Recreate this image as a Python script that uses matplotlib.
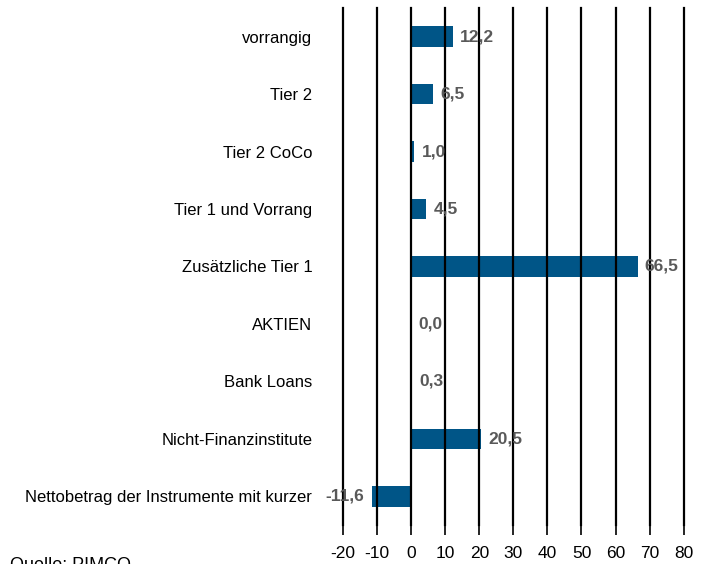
import matplotlib.pyplot as plt
from matplotlib import font_manager

# data
categories = ["vorrangig", "Tier 2", "Tier 2 CoCo", "Tier 1 und Vorrang",
              "Zusätzliche Tier 1", "AKTIEN", "Bank Loans",
              "Nicht-Finanzinstitute", "Nettobetrag der Instrumente mit kurzer"]
values = [12.2, 6.5, 1.0, 4.5, 66.5, 0.0, 0.3, 20.5, -11.6]
x_ticks = [-20, -10, 0, 10, 20, 30, 40, 50, 60, 70, 80]

names = {f.name for f in font_manager.fontManager.ttflist}
fam = "Liberation Sans Narrow" if "Liberation Sans Narrow" in names else "Liberation Sans"
plt.rcParams['font.family'] = [fam, 'DejaVu Sans']

fig = plt.figure(figsize=(7.1, 5.64), dpi=100)
ax = fig.add_axes([0.483, 0.069, 0.48, 0.917])

y = list(range(len(categories)))
ax.barh(y, values, height=0.36, color="#005587")

ax.set_xlim(-20, 80)
ax.set_ylim(len(categories) - 0.5, -0.5)
ax.set_xticks(x_ticks)
ax.set_xticklabels([str(t) for t in x_ticks], fontsize=12.5)
ax.set_yticks(y)
ax.set_yticklabels(categories, fontsize=12)
ax.tick_params(axis='y', length=0, pad=22)
ax.tick_params(axis='x', length=7, width=1.2, pad=8, color='black')
ax.grid(axis='x', color='black', linewidth=1.6)
for gl in ax.get_xgridlines():
    gl.set_clip_on(False)
ax.set_axisbelow(False)
for s in ax.spines.values():
    s.set_visible(False)

for yi, v in zip(y, values):
    txt = f"{v:.1f}".replace(".", ",")
    if v < 0:
        ax.annotate(txt, (v, yi), xytext=(-5, 0), textcoords='offset points',
                    ha='right', va='center', fontsize=12.5, fontweight='bold', color='#595959')
    else:
        ax.annotate(txt, (v, yi), xytext=(5, 0), textcoords='offset points',
                    ha='left', va='center', fontsize=12.5, fontweight='bold', color='#595959')

fig.text(0.014, 0.012, "Quelle: PIMCO", fontsize=13, va='top', ha='left')

plt.savefig("out.png", dpi=100)
